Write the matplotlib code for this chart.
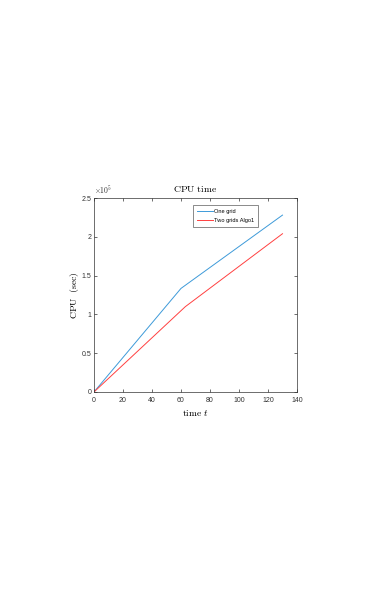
import matplotlib
matplotlib.use("Agg")
import matplotlib.pyplot as plt

# data
t_one = [0, 60, 130]
cpu_one = [0, 1.335e5, 2.28e5]
t_two = [0, 63, 130]
cpu_two = [0, 1.1e5, 2.04e5]
xticks = [0, 20, 40, 60, 80, 100, 120, 140]
yticks = [0, 0.5e5, 1e5, 1.5e5, 2e5, 2.5e5]
ytick_labels = ["0", "0.5", "1", "1.5", "2", "2.5"]

plt.rcParams['mathtext.fontset'] = 'cm'
plt.rcParams['font.family'] = 'Liberation Sans'

fig = plt.figure(figsize=(3.82, 5.99), dpi=100)
ax = fig.add_axes([0.246, 0.3456, 0.5315, 0.3238])
ax.plot(t_one, cpu_one, color='#3d9ad9', lw=0.7, label='One grid')
ax.plot(t_two, cpu_two, color='#ff4040', lw=0.7, label='Two grids Algo1')
ax.set_xlim(0, 140)
ax.set_ylim(0, 2.5e5)
ax.set_xticks(xticks)
ax.set_xticklabels([str(v) for v in xticks])
ax.set_yticks(yticks)
ax.set_yticklabels(ytick_labels)
ax.tick_params(direction='in', length=2.5, width=0.5, labelsize=5, colors='#333333',
               top=True, right=True)
ax.tick_params(axis='x', pad=3.5)
ax.tick_params(axis='y', pad=2)
for s in ax.spines.values():
    s.set_linewidth(0.5)
    s.set_color('#333333')
ax.text(0.0, 1.008, r'$\mathsf{\times 10^{5}}$', transform=ax.transAxes, fontsize=5.5,
        color='#333333', ha='left', va='bottom')
ax.set_title(r'$\mathrm{CPU\ time}$', fontsize=7, pad=4)
ax.set_xlabel(r'$\mathrm{time}\ t$', fontsize=7, labelpad=3)
ax.set_ylabel(r'$\mathrm{CPU\ \ (sec)}$', fontsize=7, labelpad=0)
leg = ax.legend(loc='upper right', bbox_to_anchor=(0.808, 0.965), prop={'size': 4.1},
                frameon=True, fancybox=False, edgecolor='#333333', handlelength=2.8,
                borderpad=0.7, labelspacing=0.75, handletextpad=0.2, borderaxespad=0)
leg.get_frame().set_linewidth(0.5)
fig.savefig('out.png', dpi=100)
